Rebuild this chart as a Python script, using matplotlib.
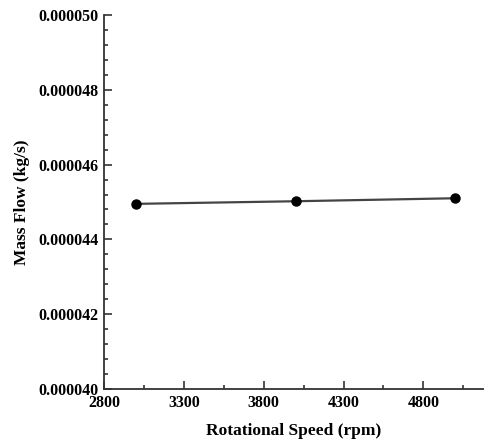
import matplotlib
matplotlib.use("Agg")
import matplotlib.pyplot as plt
from matplotlib.ticker import MultipleLocator, FormatStrFormatter

# data
speed = [3000, 4000, 5000]
mass_flow = [0.00004495, 0.00004502, 0.00004510]
x_ticks = [2800, 3300, 3800, 4300, 4800]
x_minor = [3050, 3550, 4050, 4550, 5050]
y_ticks = [0.000040, 0.000042, 0.000044, 0.000046, 0.000048, 0.000050]

plt.rcParams['font.family'] = ['Liberation Serif', 'DejaVu Serif']
plt.rcParams['font.weight'] = 'bold'

fig = plt.figure(figsize=(4.84, 4.42), dpi=100)
ax = fig.add_axes([0.215, 0.12, 0.785, 0.846])

ax.plot(speed, mass_flow, color='#444444', lw=1.6, marker='o',
        markersize=6.5, markerfacecolor='black', markeredgecolor='black')

ax.set_xlim(2800, 5180)
ax.set_ylim(0.000040, 0.000050)
ax.set_xticks(x_ticks)
ax.set_xticks(x_minor, minor=True)
ax.set_yticks(y_ticks)
ax.yaxis.set_minor_locator(MultipleLocator(0.0000004))
ax.yaxis.set_major_formatter(FormatStrFormatter('%.6f'))

ax.spines['top'].set_visible(False)
ax.spines['right'].set_visible(False)
for s in ('left', 'bottom'):
    ax.spines[s].set_color('#333333')
    ax.spines[s].set_linewidth(1.3)

ax.tick_params(which='both', direction='in', color='#333333', width=1.2,
               labelsize=11.5, pad=4)
ax.tick_params(which='major', length=6)
ax.tick_params(which='minor', length=3)

ax.set_xlabel('Rotational Speed (rpm)', fontsize=12.5, fontweight='bold', labelpad=9)
ax.set_ylabel('Mass Flow (kg/s)', fontsize=12.5, fontweight='bold', labelpad=6)

fig.savefig('out.png', dpi=100)
